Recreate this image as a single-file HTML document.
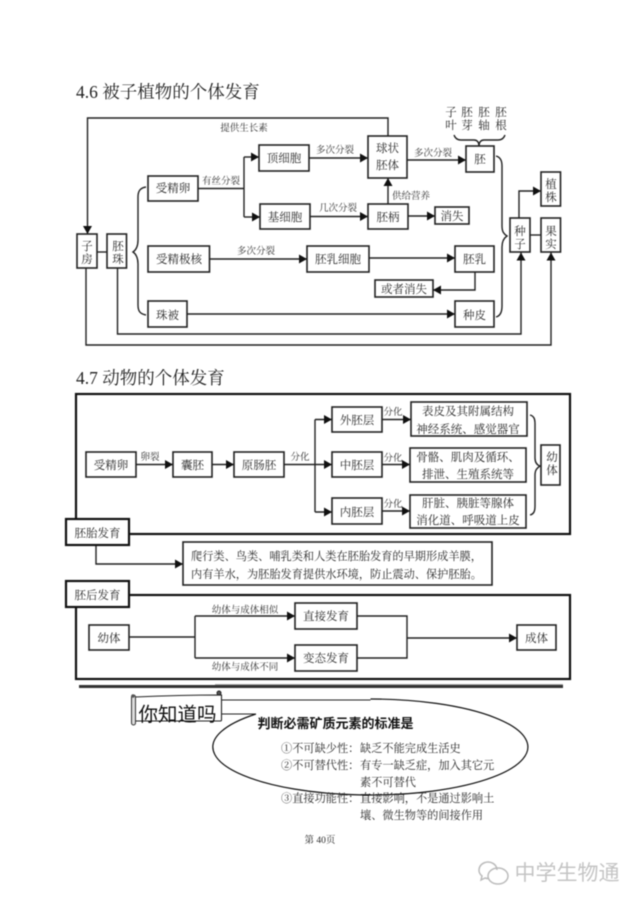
<!DOCTYPE html>
<html lang="zh">
<head>
<meta charset="utf-8">
<title>4.6 被子植物的个体发育</title>
<style>
html,body{margin:0;padding:0;background:#fff;width:640px;height:905px;overflow:hidden}
svg{display:block;filter:blur(.45px)}
text{font-family:"Liberation Serif","Noto Serif CJK SC",serif;fill:#2a2a2a;font-size:11.5px;text-anchor:middle}
.h{font-size:17.5px;text-anchor:start;fill:#222}
.s{font-size:9.500px;fill:#333}
.l{text-anchor:start;font-size:11.2px}
.b{fill:#fff;stroke:#222;stroke-width:1.6}
.B{fill:#fff;stroke:#111;stroke-width:2.2}
.c{fill:none;stroke:#222;stroke-width:1.4}
</style>
</head>
<body>
<svg width="640" height="905" viewBox="0 0 640 905" xmlns="http://www.w3.org/2000/svg">
<defs>
<marker id="a" markerUnits="userSpaceOnUse" markerWidth="9" markerHeight="10" refX="8" refY="5" orient="auto">
<path d="M0 .5L8 5L0 9.500z" fill="#111"/>
</marker>
</defs>

<text class="h" x="76" y="98">4.6 被子植物的个体发育</text>

<!-- 4.6 connectors -->
<g class="c">
<path d="M388 136V118H87.5V234" marker-end="url(#a)"/>
<path d="M97 252H107"/>
<path d="M117.5 268V334H521V252.5" marker-end="url(#a)"/>
<path d="M86 268V345H551V252.5" marker-end="url(#a)"/>
<path d="M198 188.5H244"/>
<path d="M244 157V217"/>
<path d="M244 157H259" marker-end="url(#a)"/>
<path d="M244 217H260" marker-end="url(#a)"/>
<path d="M309 158H368" marker-end="url(#a)"/>
<path d="M310 216.500H368" marker-end="url(#a)"/>
<path d="M407 160H466" marker-end="url(#a)"/>
<path d="M388 204V178" marker-end="url(#a)"/>
<path d="M408 216H435" marker-end="url(#a)"/>
<path d="M209 259H307" marker-end="url(#a)"/>
<path d="M369 258H455" marker-end="url(#a)"/>
<path d="M475 272V290H433" marker-end="url(#a)"/>
<path d="M187 314H455" marker-end="url(#a)"/>
<path d="M519 218V191H541" marker-end="url(#a)"/>
<path d="M530 235H541"/>
<path d="M146 187C140 188 138 191 138 197V240C138 247 136 250 133 252C136 254 138 257 138 264V305C138 311 140 314 146 315"/>
<path d="M496 156C500 157 502 160 502 166V226C502 232 504 234 507 236C504 238 502 241 502 247V306C502 312 500 316 496 317"/>
<path d="M454 135C455 138 457 140 461 140H474C477 140 479 142 479 146C479 142 481 140 484 140H498C502 140 504 138 505 135"/>
</g>

<!-- 4.6 boxes -->
<g>
<rect class="b" x="77" y="234" width="20" height="34"/>
<rect class="b" x="107" y="234" width="19.500" height="34"/>
<rect class="b" x="148" y="176" width="50" height="25"/>
<rect class="b" x="259" y="145" width="50" height="26"/>
<rect class="b" x="260" y="204" width="50" height="25"/>
<rect class="b" x="148" y="246" width="61.500" height="26"/>
<rect class="b" x="148" y="301" width="39" height="26"/>
<rect class="b" x="368" y="136" width="39" height="42"/>
<rect class="b" x="466" y="146" width="28" height="26"/>
<rect class="b" x="368" y="204" width="40" height="25"/>
<rect class="b" x="435" y="207" width="34" height="17"/>
<rect class="b" x="307" y="246" width="62" height="26"/>
<rect class="b" x="455" y="246" width="39" height="26"/>
<rect class="b" x="375" y="280" width="58" height="17"/>
<rect class="b" x="455" y="301" width="39" height="26"/>
<rect class="b" x="510" y="218" width="20" height="34"/>
<rect class="b" x="541" y="218" width="19.500" height="34"/>
<rect class="b" x="541" y="172" width="19.500" height="34"/>
</g>

<!-- 4.6 labels -->
<text x="87" y="250">子</text><text x="87" y="263">房</text>
<text x="118" y="250">胚</text><text x="118" y="263">珠</text>
<text x="173" y="192">受精卵</text>
<text x="284" y="162">顶细胞</text>
<text x="285" y="221">基细胞</text>
<text x="179" y="263">受精极核</text>
<text x="167.500" y="319">珠被</text>
<text x="387.500" y="152">球状</text><text x="387.500" y="169">胚体</text>
<text x="480" y="163">胚</text>
<text x="388" y="221">胚柄</text>
<text x="452" y="220">消失</text>
<text x="338" y="263">胚乳细胞</text>
<text x="474.500" y="263">胚乳</text>
<text x="404" y="293">或者消失</text>
<text x="474.500" y="319">种皮</text>
<text x="520" y="235">种</text><text x="520" y="248">子</text>
<text x="551" y="235">果</text><text x="551" y="248">实</text>
<text x="551" y="188">植</text><text x="551" y="201">株</text>
<text x="451" y="116">子</text><text x="451" y="129">叶</text>
<text x="467" y="116">胚</text><text x="467" y="129">芽</text>
<text x="484" y="116">胚</text><text x="484" y="129">轴</text>
<text x="501" y="116">胚</text><text x="501" y="129">根</text>
<text class="s" x="244" y="131">提供生长素</text>
<text class="s" x="221" y="184">有丝分裂</text>
<text class="s" x="335" y="153">多次分裂</text>
<text class="s" x="338" y="211">几次分裂</text>
<text class="s" x="433" y="156">多次分裂</text>
<text class="s" x="411" y="199">供给营养</text>
<text class="s" x="256" y="254">多次分裂</text>

<text class="h" x="76" y="384">4.7 动物的个体发育</text>

<!-- 4.7 upper frame -->
<rect x="76" y="394" width="494" height="140" fill="#fff" stroke="#111" stroke-width="2.2"/>
<g class="c">
<path d="M136 464.500H173" marker-end="url(#a)"/>
<path d="M212 464.500H234" marker-end="url(#a)"/>
<path d="M284 464.500H315"/>
<path d="M315 419.500V512"/>
<path d="M315 419.500H332" marker-end="url(#a)"/>
<path d="M315 464.500H332" marker-end="url(#a)"/>
<path d="M315 512H332" marker-end="url(#a)"/>
<path d="M382 419.500H411" marker-end="url(#a)"/>
<path d="M382 464.500H410" marker-end="url(#a)"/>
<path d="M382 511H410" marker-end="url(#a)"/>
<path d="M530 415C534 416 535 419 535 424V458C535 463 537 465 540 466C537 468 535 470 535 475V506C535 511 534 514 530 515"/>
</g>
<g>
<rect class="b" x="86" y="452" width="50" height="25"/>
<rect class="b" x="173" y="452" width="39" height="25"/>
<rect class="b" x="234" y="452" width="50" height="25"/>
<rect class="b" x="332" y="407" width="50" height="25"/>
<rect class="b" x="332" y="452" width="50" height="25"/>
<rect class="b" x="332" y="498" width="50" height="26"/>
<rect class="b" x="411" y="402" width="116" height="34"/>
<rect class="b" x="410" y="448" width="116" height="34"/>
<rect class="b" x="410" y="495" width="116" height="33"/>
<rect class="b" x="541" y="445" width="19" height="40"/>
</g>
<text x="111" y="469">受精卵</text>
<text x="192.500" y="469">囊胚</text>
<text x="259" y="469">原肠胚</text>
<text x="357" y="424">外胚层</text>
<text x="357" y="469">中胚层</text>
<text x="357" y="516">内胚层</text>
<text x="468" y="415">表皮及其附属结构</text>
<text x="468" y="433">神经系统、感觉器官</text>
<text x="468" y="461">骨骼、肌肉及循环、</text>
<text x="468" y="478">排泄、生殖系统等</text>
<text x="468" y="507">肝脏、胰脏等腺体</text>
<text x="468" y="524">消化道、呼吸道上皮</text>
<text x="552" y="461">幼</text><text x="552" y="474">体</text>
<text class="s" x="150" y="460">卵裂</text>
<text class="s" x="300" y="460">分化</text>
<text class="s" x="393" y="415">分化</text>
<text class="s" x="393" y="461">分化</text>
<text class="s" x="393" y="507">分化</text>

<!-- 胚胎发育 -->
<path class="c" d="M96 545V564H183" marker-end="url(#a)"/>
<rect class="b" x="183" y="542" width="309" height="43"/>
<text class="l" x="191" y="560">爬行类、鸟类、哺乳类和人类在胚胎发育的早期形成羊膜，</text>
<text class="l" x="191" y="578">内有羊水，为胚胎发育提供水环境，防止震动、保护胚胎。</text>

<!-- lower frame -->
<rect x="76" y="595" width="494" height="84" fill="#fff" stroke="#111" stroke-width="2.2"/>
<rect class="B" x="66" y="519" width="63" height="26"/>
<text x="97.500" y="537">胚胎发育</text>
<rect class="B" x="66" y="581" width="63" height="26"/>
<text x="97.500" y="599">胚后发育</text>
<g class="c">
<path d="M129 637H195"/>
<path d="M195 616V658"/>
<path d="M195 616H295" marker-end="url(#a)"/>
<path d="M195 658H295" marker-end="url(#a)"/>
<path d="M357 616H407V658H357"/>
<path d="M407 638H517" marker-end="url(#a)"/>
</g>
<rect class="b" x="89" y="625" width="40" height="25"/>
<rect class="b" x="295" y="603" width="62" height="26"/>
<rect class="b" x="295" y="645" width="62" height="26"/>
<rect class="b" x="517" y="625" width="39" height="25"/>
<text x="109" y="642">幼体</text>
<text x="326" y="620">直接发育</text>
<text x="326" y="662">变态发育</text>
<text x="536.500" y="642">成体</text>
<text class="s" x="245" y="613">幼体与成体相似</text>
<text class="s" x="245" y="670">幼体与成体不同</text>

<!-- divider -->
<rect x="79" y="685" width="484" height="3" fill="#333"/>
<rect x="215" y="684" width="348" height="1" fill="#aaa"/>

<!-- did you know: ellipse open at upper-left, joined to the scroll -->
<path d="M256 714A157.500 48 0 1 0 370.500 699" fill="#fff" stroke="#111" stroke-width="1.200"/>
<path d="M222 700H370.500" stroke="#222" stroke-width="1" fill="none"/>
<path d="M222 714H256" stroke="#222" stroke-width="1" fill="none"/>
<path d="M135 697Q180 695 221.500 695V720Q221.500 721 220 721H135Z" fill="#fff" stroke="#222" stroke-width="1.100"/>
<rect x="131.500" y="695" width="4" height="30" rx="2" fill="#ddd" stroke="#333"/>
<circle cx="219" cy="693" r="2" fill="#555" stroke="#222"/>
<circle cx="133" cy="696" r="1.800" fill="#555"/>
<text x="177.500" y="721" style='font-family:"Liberation Sans","Noto Sans CJK SC",sans-serif;font-size:19.500px;fill:#111'>你知道吗</text>
<text x="335.500" y="728" style='font-family:"Liberation Sans","Noto Sans CJK SC",sans-serif;font-size:13px;font-weight:700;fill:#111'>判断必需矿质元素的标准是</text>

<text class="l" x="281" y="752">①不可缺少性：</text>
<text class="l" x="281" y="769">②不可替代性：</text>
<text class="l" x="281" y="802">③直接功能性：</text>
<text class="l" x="360" y="752">缺乏不能完成生活史</text>
<text class="l" x="360" y="769">有专一缺乏症，加入其它元</text>
<text class="l" x="360" y="786">素不可替代</text>
<text class="l" x="360" y="802">直接影响，不是通过影响土</text>
<text class="l" x="360" y="819">壤、微生物等的间接作用</text>

<text x="320" y="843" style="font-size:9.500px">第 40页</text>

<!-- watermark -->
<g fill="none" stroke="#bbb" stroke-width="1.500">
<path d="M497 870a9 8 0 1 0 -15 6l-1 4l4 -2q2 .6 4 .6"/>
<ellipse cx="498" cy="876" rx="10" ry="8"/>
</g>
<text x="567" y="880" style='font-family:"Liberation Sans","Noto Sans CJK SC",sans-serif;font-size:21px;fill:#c4c4c4'>中学生物通</text>
</svg>
</body>
</html>
